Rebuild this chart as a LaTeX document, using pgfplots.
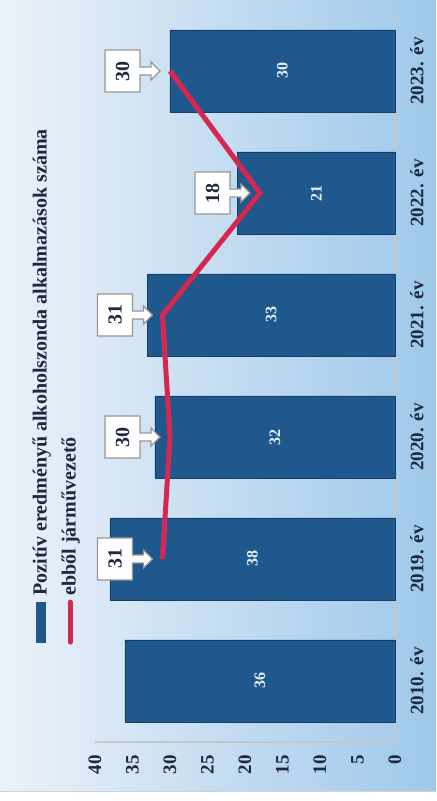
\documentclass[border=0pt]{standalone}
\usepackage{fontspec}
\setmainfont{Liberation Serif}
\usepackage{graphicx}
\usepackage{pgfplots}
\pgfplotsset{compat=1.18}

\definecolor{barblue}{RGB}{31,88,140}
\definecolor{baredge}{RGB}{22,62,104}
\definecolor{linered}{RGB}{214,38,82}
\definecolor{bgtop}{RGB}{236,242,249}
\definecolor{bgbottom}{RGB}{158,200,234}
\definecolor{boxgray}{RGB}{150,150,150}
\definecolor{barlabel}{RGB}{232,238,245}
\definecolor{textnavy}{RGB}{30,40,62}

% white box with a block arrow pointing down at the point
\pgfdeclareplotmark{callout}{%
  \pgfpathmoveto{\pgfqpoint{-10.5pt}{15pt}}%
  \pgfpathlineto{\pgfqpoint{-10.5pt}{32.5pt}}%
  \pgfpathlineto{\pgfqpoint{10.5pt}{32.5pt}}%
  \pgfpathlineto{\pgfqpoint{10.5pt}{15pt}}%
  \pgfpathlineto{\pgfqpoint{2pt}{15pt}}%
  \pgfpathlineto{\pgfqpoint{2pt}{9.5pt}}%
  \pgfpathlineto{\pgfqpoint{4.5pt}{9.5pt}}%
  \pgfpathlineto{\pgfqpoint{0pt}{5pt}}%
  \pgfpathlineto{\pgfqpoint{-4.5pt}{9.5pt}}%
  \pgfpathlineto{\pgfqpoint{-2pt}{9.5pt}}%
  \pgfpathlineto{\pgfqpoint{-2pt}{15pt}}%
  \pgfpathclose
  \pgfusepathqfillstroke
}

\begin{document}
\rotatebox{90}{%
\begin{tikzpicture}
\useasboundingbox (0,0) rectangle (400.5pt,218pt);
\shade[top color=bgtop, bottom color=bgbottom] (4.5pt,0) rectangle (400.5pt,218pt);
\draw[gray!35, line width=0.5pt] (4.5pt,0) -- (4.5pt,218pt);
\begin{axis}[
    at={(29.5pt,20.5pt)}, anchor=south west,
    scale only axis,
    width=366pt, height=150pt,
    xmin=-0.5, xmax=5.5,
    ymin=0, ymax=40,
    clip=false,
    axis x line*=bottom, axis y line*=left,
    axis line style={-, draw=gray!45, line width=0.6pt},
    major tick length=0pt,
    xtick={0,1,2,3,4,5},
    xticklabels={2010. év, 2019. év, 2020. év, 2021. év, 2022. év, 2023. év},
    xticklabel style={font=\bfseries\fontsize{9.5}{11}\selectfont, text=textnavy, yshift=-4pt},
    ytick={0,5,...,40},
    yticklabel style={font=\bfseries\fontsize{9.5}{11}\selectfont, text=textnavy, xshift=-3pt},
    /pgf/number format/assume math mode=true,
    legend cell align=left,
    legend style={at={(0.1325,1.223)}, anchor=north west, draw=none, fill=none,
        font=\bfseries\fontsize{10}{12}\selectfont, text=textnavy, row sep=2pt, inner sep=0pt},
]
\addplot[ybar, bar width=41pt, fill=barblue, draw=baredge,
    nodes near coords, point meta=y,
    visualization depends on=y \as \rawy,
    every node near coord/.append style={anchor=center,
        shift={(axis direction cs:0,-\rawy/2)},
        text=barlabel, font=\bfseries\fontsize{8}{9}\selectfont},
    legend image code/.code={\fill[barblue] (0pt,-2.4pt) rectangle (20pt,2.4pt);}]
coordinates {(0,36) (1,38) (2,32) (3,33) (4,21) (5,30)};
\addlegendentry{Pozitív eredményű alkoholszonda alkalmazások száma}

\addplot[linered, line width=2.5pt,
    mark=callout, mark options={solid, fill=white, draw=boxgray, line width=0.6pt},
    nodes near coords, point meta=y,
    every node near coord/.append style={anchor=center, yshift=23.75pt,
        text=textnavy, font=\bfseries\fontsize{10}{12}\selectfont},
    legend image code/.code={\draw[linered, line width=2.5pt, line cap=round] (0pt,0) -- (20pt,0);}]
coordinates {(1,31) (2,30) (3,31) (4,18) (5,30)};
\addlegendentry{ebből járművezető}
\end{axis}
\end{tikzpicture}}
\end{document}
